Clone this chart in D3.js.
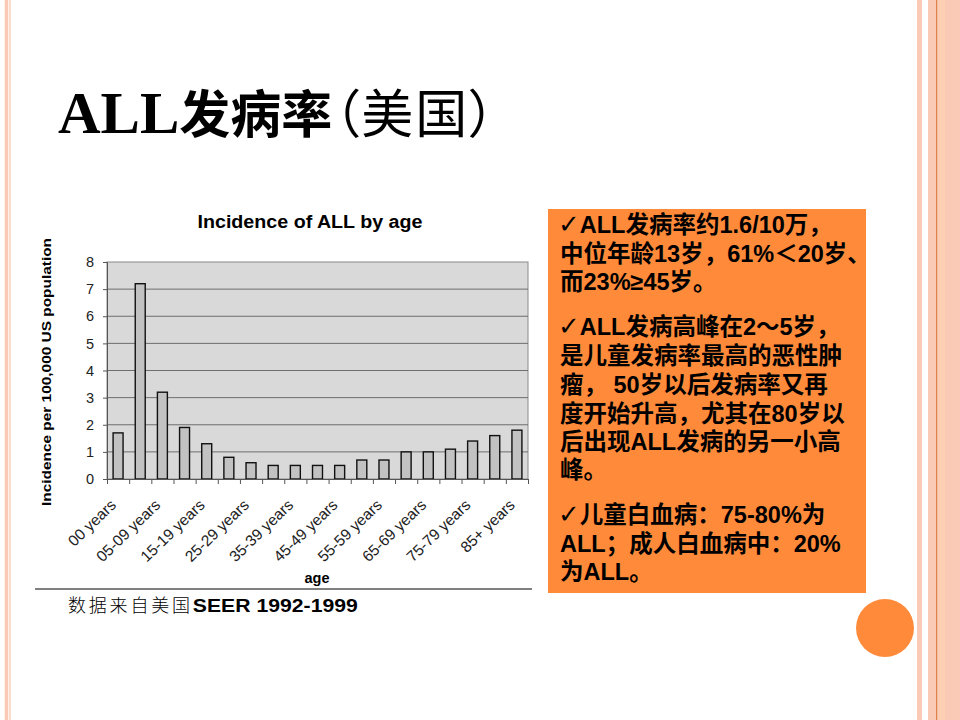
<!DOCTYPE html>
<html><head><meta charset="utf-8">
<script src="https://cdn.jsdelivr.net/npm/d3@7/dist/d3.min.js"></script>
<style>
html,body{margin:0;padding:0;background:#fff;}
svg{display:block;}
.palt{font-feature-settings:"palt" 1;}
</style></head>
<body>
<svg id="c" width="960" height="720"></svg>
<script>
const categories = ["00 years","01-04 years","05-09 years","10-14 years","15-19 years","20-24 years","25-29 years","30-34 years","35-39 years","40-44 years","45-49 years","50-54 years","55-59 years","60-64 years","65-69 years","70-74 years","75-79 years","80-84 years","85+ years"];
const incidence = [1.7,7.2,3.2,1.9,1.3,0.8,0.6,0.5,0.5,0.5,0.5,0.7,0.7,1.0,1.0,1.1,1.4,1.6,1.8];
const yTicks = [0,1,2,3,4,5,6,7,8];
const chartTitle = "Incidence of ALL by age";
const yTitle = "Incidence per 100,000 US population";
const xTitle = "age";
const slideTitleA = "ALL";
const slideTitleB = "发病率";
const slideTitleC = "（美国）";
const sourceCn = "数据来自美国";
const sourceEn = "SEER 1992-1999";
const boxLines = [
  ["✓","ALL发病率约1.6/10万，"],
  ["","中位年龄13岁，61%＜20岁、"],
  ["","而23%≥45岁。"],
  ["✓","ALL发病高峰在2～5岁，"],
  ["","是儿童发病率最高的恶性肿"],
  ["","瘤， 50岁以后发病率又再"],
  ["","度开始升高，尤其在80岁以"],
  ["","后出现ALL发病的另一小高"],
  ["","峰。"],
  ["✓","儿童白血病：75-80%为"],
  ["","ALL；成人白血病中：20%"],
  ["","为ALL。"]
];
const boxBaselines = [233,262,290,335,364,393,422,450,478,523,552,580];

const svg = d3.select("#c");
const pink = "#fbcab7";

// decorative stripes
const stripes = [
  {x:4.7,w:3.6,c:pink},{x:9.3,w:1.4,c:pink},
  {x:917,w:5,c:pink},{x:928,w:8,c:pink},{x:936,w:1.6,c:"#e0804f"},
  {x:937.6,w:7.4,c:"#fdcfb3"},{x:945,w:15,c:pink}
];
svg.selectAll("rect.stripe").data(stripes).join("rect")
  .attr("x",d=>d.x).attr("y",0).attr("width",d=>d.w).attr("height",720).attr("fill",d=>d.c);

// slide title
const cjk = "'Noto Sans CJK SC',sans-serif";
const t = svg.append("text").attr("x",58).attr("y",133);
t.append("tspan").text(slideTitleA)
  .attr("font-family","'Liberation Serif',serif").attr("font-weight","bold").attr("font-size",59);
t.append("tspan").text(slideTitleB)
  .attr("font-family",cjk).attr("font-weight","bold").attr("font-size",51);
t.append("tspan").text(slideTitleC).attr("class","palt").attr("dx",1).attr("letter-spacing",2)
  .attr("font-family",cjk).attr("font-weight","normal").attr("font-size",52);

// chart
const L=107,R=528,T=262,B=479;
const x = d3.scaleBand().domain(categories).range([L,R]).paddingInner(0.55).paddingOuter(0.275);
const xi = d3.scaleLinear().domain([0,categories.length]).range([L,R]);
const y = d3.scaleLinear().domain([0,8]).range([B,T]);

svg.append("rect").attr("x",L).attr("y",T).attr("width",R-L).attr("height",B-T)
  .attr("fill","#d9d9d9").attr("stroke","#8a8a8a").attr("stroke-width",1);

svg.append("g").selectAll("line").data(yTicks.filter(v=>v>0&&v<8)).join("line")
  .attr("x1",L).attr("x2",R).attr("y1",d=>y(d)).attr("y2",d=>y(d))
  .attr("stroke","#6e6e6e").attr("stroke-width",1);

svg.append("g").selectAll("rect").data(categories).join("rect")
  .attr("x",d=>x(d)).attr("width",x.bandwidth())
  .attr("y",(d,i)=>y(incidence[i])).attr("height",(d,i)=>B-y(incidence[i]))
  .attr("fill","#c2c2c2").attr("stroke","#111").attr("stroke-width",1.4);

const ya = svg.append("g").attr("transform",`translate(${L},0)`)
  .call(d3.axisLeft(y).tickValues(yTicks).tickSize(4).tickPadding(9).tickFormat(d3.format("d")));
ya.select(".domain").attr("stroke","#555");
ya.selectAll(".tick line").attr("stroke","#555");
ya.selectAll("text").attr("font-family","'Liberation Sans',Arial,sans-serif").attr("font-size",14.5).attr("fill","#222");

const xa = svg.append("g").attr("transform",`translate(0,${B})`)
  .call(d3.axisBottom(xi).tickValues(d3.range(categories.length+1)).tickSize(5).tickFormat(""));
xa.select(".domain").attr("stroke","#555");
xa.selectAll(".tick line").attr("stroke","#555");

svg.append("g").selectAll("text").data(categories.filter((d,i)=>i%2===0)).join("text")
  .attr("transform",d=>`translate(${x(d)+x.bandwidth()/2-1},${B+27}) rotate(-44)`)
  .attr("text-anchor","end")
  .attr("font-family","'Liberation Sans',Arial,sans-serif").attr("font-size",15.5).attr("fill","#222")
  .text(d=>d);

svg.append("text").attr("x",310).attr("y",228).attr("text-anchor","middle")
  .attr("font-family","'Liberation Sans',Arial,sans-serif").attr("font-weight","bold").attr("font-size",17.5)
  .attr("textLength",225).attr("lengthAdjust","spacingAndGlyphs").text(chartTitle);

svg.append("text").attr("transform","translate(51,372) rotate(-90)").attr("text-anchor","middle")
  .attr("font-family","'Liberation Sans',Arial,sans-serif").attr("font-weight","bold").attr("font-size",13)
  .attr("textLength",268).attr("lengthAdjust","spacingAndGlyphs").text(yTitle);

svg.append("text").attr("x",317).attr("y",583).attr("text-anchor","middle")
  .attr("font-family","'Liberation Sans',Arial,sans-serif").attr("font-weight","bold").attr("font-size",14.5).text(xTitle);

svg.append("line").attr("x1",35).attr("x2",532).attr("y1",589).attr("y2",589).attr("stroke","#000").attr("stroke-width",1);

const s = svg.append("text").attr("x",68).attr("y",612);
s.append("tspan").text(sourceCn).attr("font-family","'Noto Sans CJK SC',sans-serif").attr("font-weight",300)
  .attr("font-size",18).attr("letter-spacing",2.8);
s.append("tspan").text(sourceEn).attr("font-family","'Liberation Sans',Arial,sans-serif").attr("font-weight","bold")
  .attr("font-size",18.5).attr("textLength",165).attr("lengthAdjust","spacingAndGlyphs");

// orange box
svg.append("rect").attr("x",548).attr("y",209).attr("width",318).attr("height",384).attr("fill","#ff8a3a");
const bl = svg.append("g");
boxLines.forEach((ln,i)=>{
  const tx = bl.append("text").attr("x",ln[0]?558:560).attr("y",boxBaselines[i])
    .attr("font-family","'Liberation Sans','Noto Sans CJK SC',sans-serif").attr("font-weight","bold").attr("font-size",23.5).attr("fill","#000");
  if(ln[0]) tx.append("tspan").text(ln[0]).attr("font-family","'DejaVu Sans','Noto Sans',sans-serif").attr("font-weight","normal").attr("font-size",26);
  tx.append("tspan").text(ln[1]);
});

// circle
svg.append("circle").attr("cx",885).attr("cy",628).attr("r",29).attr("fill","#ff8a3a");
</script>
</body></html>
